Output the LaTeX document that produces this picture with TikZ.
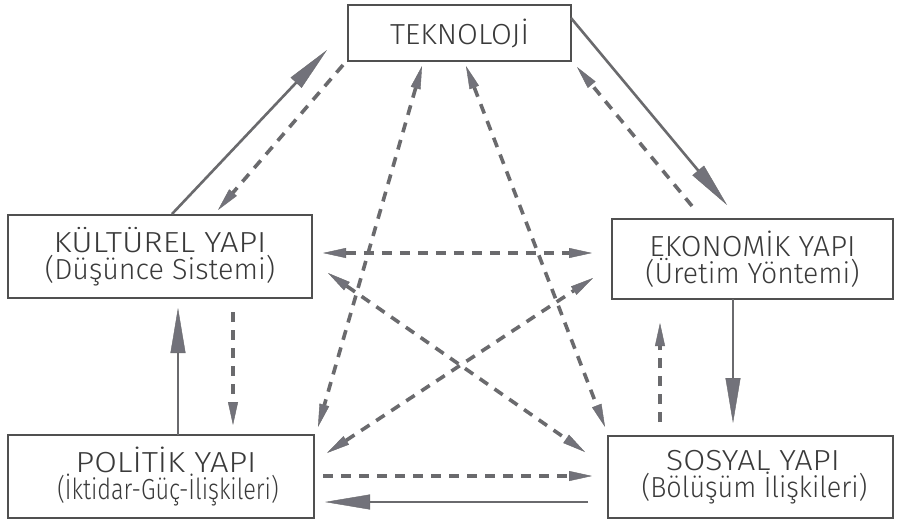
\documentclass[tikz,border=0pt]{standalone}
\usepackage{fontspec}
\usepackage{graphicx}
\setmainfont{Fira Sans}[UprightFont={* Light}]
\usetikzlibrary{arrows.meta}
\definecolor{ln}{HTML}{6A6A6D}
\definecolor{hd}{HTML}{72727A}
\definecolor{bx}{HTML}{505050}
\definecolor{tx}{HTML}{3A3A3A}
\newcommand{\wx}[2]{\scalebox{#1}[1]{#2}}
\begin{document}
\begin{tikzpicture}[x=1pt,y=-1pt,
  box/.style={draw=bx, line width=2.6pt, rectangle, inner sep=0pt, text=tx,
    font=\fontsize{29}{27}\selectfont, align=center},
  sol/.style={draw=ln, line width=2.6pt,
    -{Triangle[length=45pt,width=15pt,line width=0.4pt,fill=hd]}},
  dsh/.style={draw=ln, line width=3.6pt, dash pattern=on 10pt off 8pt,
    -{Triangle[length=23pt,width=10pt,line width=0.4pt,fill=hd]}},
  ddsh/.style={draw=ln, line width=3.6pt, dash pattern=on 10pt off 8pt,
    {Triangle[length=23pt,width=10pt,line width=0.4pt,fill=hd]}-{Triangle[length=23pt,width=10pt,line width=0.4pt,fill=hd]}}]
\fill[white] (0,0) rectangle (899,525);
\useasboundingbox (0,0) rectangle (899,525);

\node[box, minimum width=223pt, minimum height=56pt] (T) at (459.5,33) {\wx{1.04}{TEKNOLOJİ}};
\node[box, minimum width=304pt, minimum height=83pt] (K) at (160,256.5)
  {\wx{1.13}{KÜLTÜREL YAPI}\\\wx{0.99}{(Düşünce Sistemi)}};
\node[box, minimum width=281pt, minimum height=80pt] (E) at (752.5,259)
  {\wx{1.035}{EKONOMİK YAPI}\\\wx{0.98}{(Üretim Yöntemi)}};
\node[box, minimum width=306pt, minimum height=83pt] (P) at (161,476.5)
  {\hspace*{10pt}\wx{1.13}{POLİTİK YAPI}\\\hspace*{14pt}\wx{0.81}{(İktidar-Güç-İlişkileri)}};
\node[box, minimum width=285pt, minimum height=82pt] (S) at (750.5,477)
  {\hspace*{5pt}\wx{1.1}{SOSYAL YAPI}\\\hspace*{8pt}\wx{0.93}{(Bölüşüm İlişkileri)}};

% end points
\coordinate (kt1) at (172,214);  \coordinate (kt2) at (327,50);
\coordinate (tk1) at (343,65);   \coordinate (tk2) at (218,210);
\coordinate (te1) at (571,18);   \coordinate (te2) at (727,205);
\coordinate (et1) at (692,206);  \coordinate (et2) at (577,67);
\coordinate (ke1) at (323,253);  \coordinate (ke2) at (592,253);
\coordinate (ks1) at (328,273);  \coordinate (ks2) at (585,452);
\coordinate (pe1) at (327,453);  \coordinate (pe2) at (593,278);
\coordinate (tp1) at (422,66);   \coordinate (tp2) at (318,427);
\coordinate (ts1) at (466,66);   \coordinate (ts2) at (605,427);
\coordinate (pk1) at (178,435);  \coordinate (pk2) at (178,308);
\coordinate (kp1) at (233,312);  \coordinate (kp2) at (233,425);
\coordinate (es1) at (733,299);  \coordinate (es2) at (733,423);
\coordinate (se1) at (660,422);  \coordinate (se2) at (660,323);
\coordinate (ps1) at (323,476);  \coordinate (ps2) at (592,476);
\coordinate (sp1) at (588,502);  \coordinate (sp2) at (325,502);

\draw[sol] (kt1) -- (kt2);
\draw[dsh] (tk1) -- (tk2);
\draw[sol] (te1) -- (te2);
\draw[dsh] (et1) -- (et2);
\draw[ddsh] (ke1) -- (ke2);
\draw[ddsh] (ks1) -- (ks2);
\draw[ddsh] (pe1) -- (pe2);
\draw[ddsh] (tp1) -- (tp2);
\draw[ddsh] (ts1) -- (ts2);
\draw[sol] (pk1) -- (pk2);
\draw[dsh] (kp1) -- (kp2);
\draw[sol] (es1) -- (es2);
\draw[dsh] (se1) -- (se2);
\draw[dsh] (ps1) -- (ps2);
\draw[sol] (sp1) -- (sp2);
\end{tikzpicture}
\end{document}
